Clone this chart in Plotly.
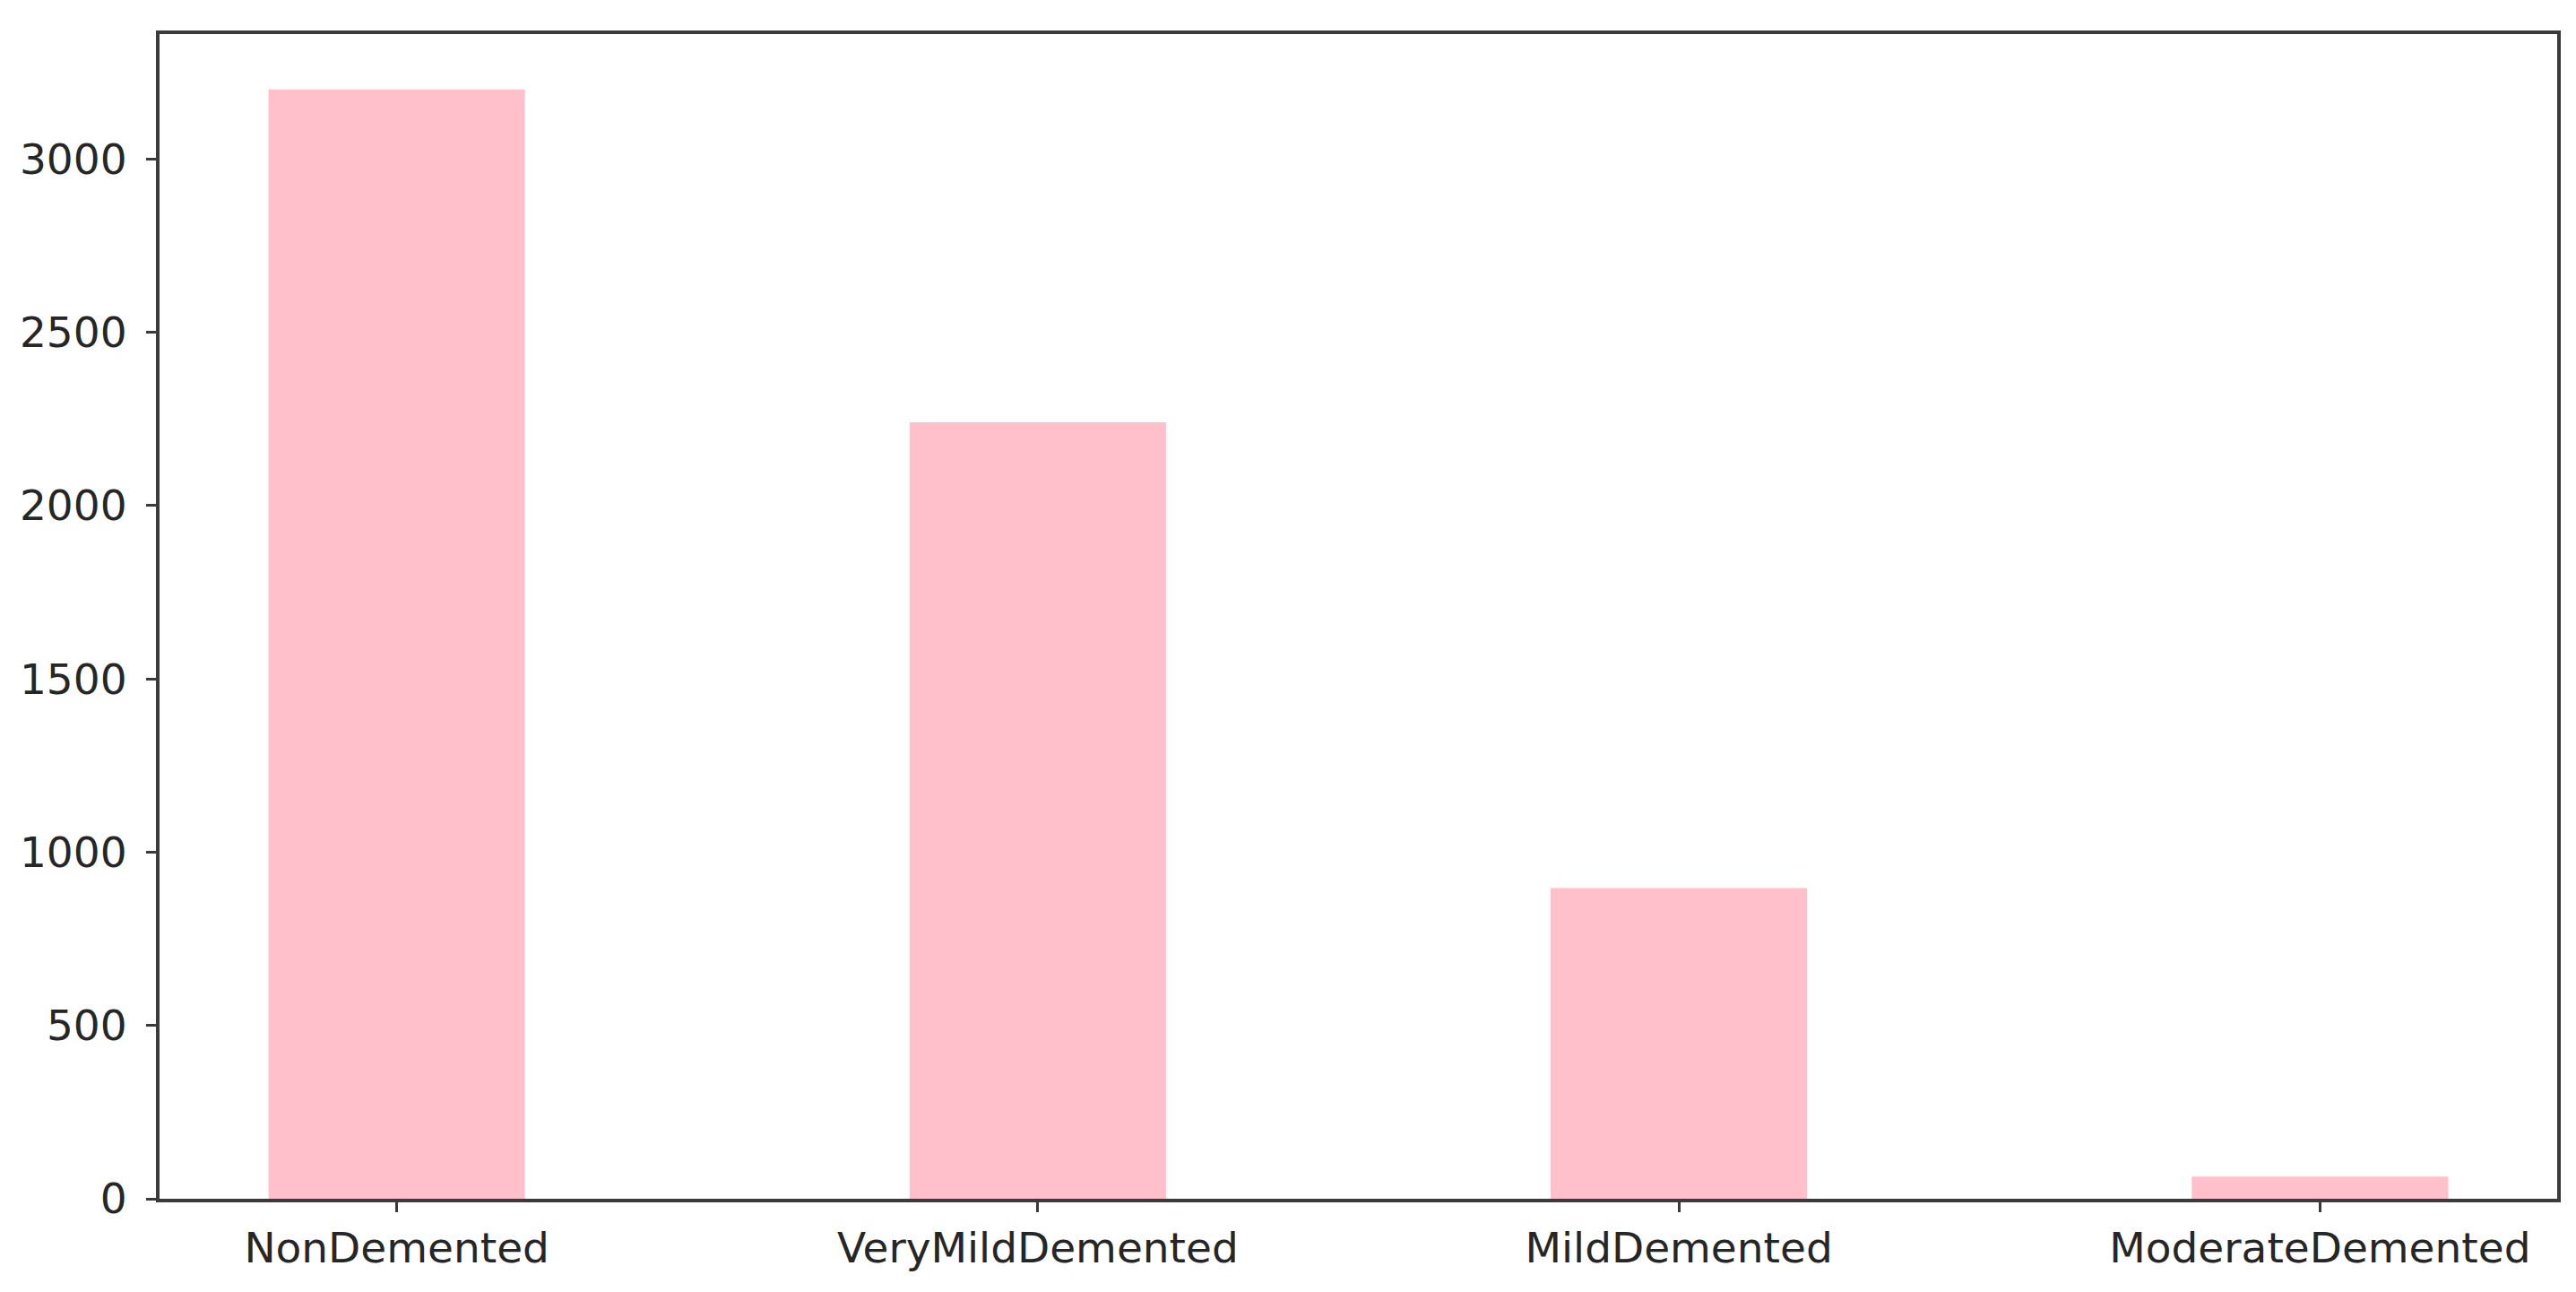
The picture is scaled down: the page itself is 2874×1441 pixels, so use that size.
import plotly.graph_objects as go

# class counts
categorias = ["NonDemented", "VeryMildDemented", "MildDemented", "ModerateDemented"]
contagens = [3200, 2240, 896, 64]
y_ticks = [0, 500, 1000, 1500, 2000, 2500, 3000]

fig = go.Figure(go.Bar(
    x=categorias,
    y=contagens,
    marker_color="#ffc0cb",
    marker_line_width=0,
))

eixo = dict(
    showline=True, linecolor="#3a3a3a", linewidth=4, mirror=True,
    ticks="outside", ticklen=11, tickwidth=3, tickcolor="#3a3a3a",
    showgrid=False, zeroline=False,
    tickfont=dict(family="DejaVu Sans", size=47, color="#262626"),
)

fig.update_layout(
    width=2874, height=1441,
    paper_bgcolor="white", plot_bgcolor="white",
    margin=dict(l=170, r=29, t=30, b=112),
    bargap=0.6,
    showlegend=False,
    xaxis=dict(eixo, range=[-0.37, 3.37], ticklabelstandoff=0),
    yaxis=dict(eixo, range=[0, 3360], tickvals=y_ticks, ticklabelstandoff=12),
)

fig.write_html("out.html")
